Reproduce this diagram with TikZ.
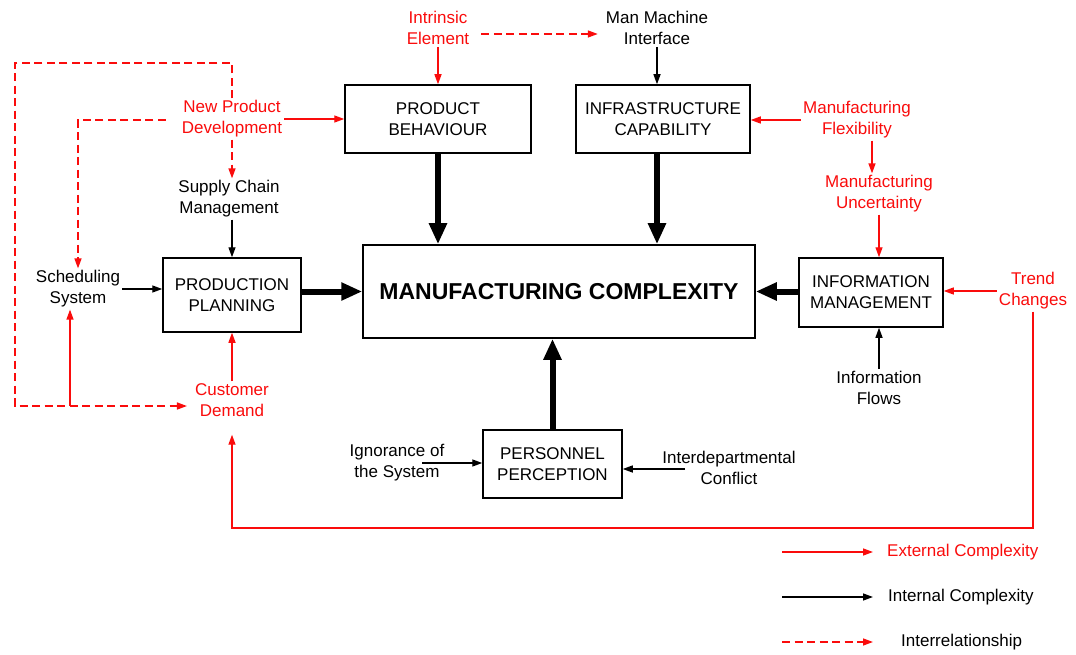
\documentclass[tikz,border=0pt]{standalone}
\usepackage{fontspec}
\setmainfont{Liberation Sans}
\usetikzlibrary{arrows.meta,calc}
\definecolor{ered}{RGB}{250,12,12}
\tikzset{
  box/.style={draw=black, line width=1.5pt, fill=white, align=center, inner sep=0pt,
    font=\fontsize{17}{21}\selectfont},
  lbl/.style={align=center, inner sep=2pt, font=\fontsize{17}{21}\selectfont},
  rlbl/.style={lbl, text=ered},
  int/.style={draw=black, line width=1.3pt, -{Triangle[length=10pt,width=7pt]}},
  ext/.style={draw=ered, line width=1.3pt, -{Triangle[length=10pt,width=7pt]}},
  inter/.style={draw=ered, line width=1.4pt, dash pattern=on 8pt off 4.5pt, -{Triangle[length=10pt,width=7pt]}},
  heavy/.style={draw=black, line width=6pt, -{Triangle[length=21pt,width=17pt]}},
}
\begin{document}
\begin{tikzpicture}[x=1pt,y=-1pt]
\useasboundingbox[fill=white] (0,0) rectangle (1076,655);

% boxes
\node[box, minimum width=186, minimum height=68] (pb) at (438,119) {PRODUCT\\BEHAVIOUR};
\node[box, minimum width=174, minimum height=68] (ic) at (663,119) {INFRASTRUCTURE\\CAPABILITY};
\node[box, minimum width=392, minimum height=93] (mc) at (559,291.5) {\fontsize{23}{27}\selectfont\bfseries MANUFACTURING COMPLEXITY};
\node[box, minimum width=138, minimum height=74] (pp) at (232,295) {PRODUCTION\\PLANNING};
\node[box, minimum width=144, minimum height=69] (im) at (871,292.5) {INFORMATION\\MANAGEMENT};
\node[box, minimum width=139, minimum height=68] (pe) at (552.5,464) {PERSONNEL\\PERCEPTION};

% labels
\node[rlbl] (ie) at (438,28) {Intrinsic\\Element};
\node[lbl] (mmi) at (657,28) {Man Machine\\Interface};
\node[rlbl] (npd) at (232,119) {New Product\\Development};
\node[lbl] (scm) at (229,199) {Supply Chain\\Management};
\node[lbl] (ss) at (78,289) {Scheduling\\System};
\node[rlbl] (cd) at (232,400) {Customer\\Demand};
\node[rlbl] (mf) at (857,120) {Manufacturing\\Flexibility};
\node[rlbl] (mu) at (879,194) {Manufacturing\\Uncertainty};
\node[rlbl] (tc) at (1033,291) {Trend\\Changes};
\node[lbl] (if) at (879,388) {Information\\Flows};
\node[lbl] (ig) at (397,463) {Ignorance of\\the System};
\node[lbl] (idc) at (729,468) {Interdepartmental\\Conflict};

% top connectors
\draw[ext] (ie.south) -- (ie.south |- pb.north);
\draw[inter] ($(ie.east)+(10,6)$) -- ($(mmi.west)+(-6,6)$);
\draw[int] (mmi.south) -- (mmi.south |- ic.north);
\draw[heavy] (pb.south) -- (pb.south |- mc.north);
\draw[heavy] (mmi.south |- ic.south) -- (mmi.south |- mc.north);

% left side
\draw[ext] (npd.east) -- (npd.east -| pb.west);
\draw[inter] ($(npd.west)+(-14,1)$) -| (ss.north);
\draw[inter] (npd.north) -- (npd.north |- 0,63) -- (15,63) -- (15,406) -- ($(cd.west)+(-6,6)$);
\coordinate (jn) at (70,406);
\draw[ext] (jn) -- (jn |- ss.south);
\draw[inter] (npd.south) -- (npd.south |- scm.north);
\draw[int] (scm.south -| pp.north) -- (pp.north);
\draw[int] (ss.east) -- (ss.east -| pp.west);
\draw[ext] (cd.north) -- (cd.north |- pp.south);
\draw[heavy] (pp.east |- mc) -- (mc.west);

% right side
\draw[ext] (mf.west) -- (mf.west -| ic.east);
\draw[ext] ($(mf.south)+(15,0)$) -- ($(mu.north)+(-7,0)$);
\draw[ext] (mu.south) -- (mu.south |- im.north);
\draw[int] (if.north) -- (if.north |- im.south);
\draw[ext] (tc.west) -- (tc.west -| im.east);
\draw[heavy] (im.west |- mc) -- (mc.east);
\draw[ext] (tc.south) -- (tc.south |- 0,528) -| ($(cd.south)+(0,16)$);

% bottom
\draw[heavy] (pe.north) -- (pe.north |- mc.south);
\coordinate (igs) at (422,463);
\draw[int] (igs) -- (igs -| pe.west);
\coordinate (idcs) at (685,469);
\draw[int] (idcs) -- (idcs -| pe.east);

% legend
\node[lbl, anchor=west, text=ered] (lg1) at (885,552) {External Complexity};
\node[lbl, anchor=west] (lg2) at (886,597) {Internal Complexity};
\node[lbl, anchor=west] (lg3) at (899,642) {Interrelationship};
\coordinate (l1) at (782,552);
\coordinate (l2) at (782,597);
\coordinate (l3) at (782,642);
\draw[ext] (l1) -- (l1 -| 873,0);
\draw[int] (l2) -- (l2 -| 873,0);
\draw[inter] (l3) -- (l3 -| 873,0);
\end{tikzpicture}
\end{document}
